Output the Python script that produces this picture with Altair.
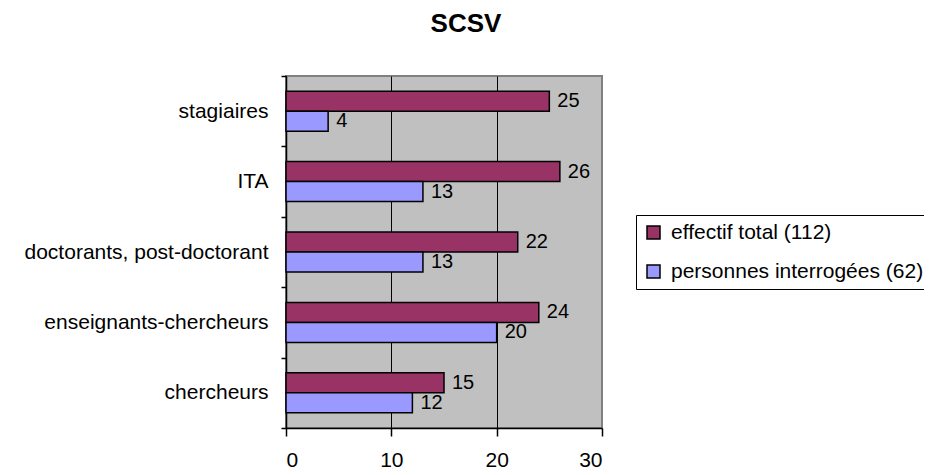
import altair as alt
import pandas as pd

categories = ["stagiaires", "ITA", "doctorants, post-doctorant", "enseignants-chercheurs", "chercheurs"]
series = ["effectif total (112)", "personnes interrogées (62)"]
effectif_total = [25, 26, 22, 24, 15]
personnes_interrogees = [4, 13, 13, 20, 12]
x_ticks = [0, 10, 20, 30]
colors = ["#993366", "#9999FF"]

rows = []
for c, a, b in zip(categories, effectif_total, personnes_interrogees):
    rows.append({"cat": c, "serie": series[0], "val": a})
    rows.append({"cat": c, "serie": series[1], "val": b})
df = pd.DataFrame(rows)

FONT = "Liberation Sans"

y_enc = alt.Y("cat:N", sort=categories, title=None,
              scale=alt.Scale(paddingInner=0, paddingOuter=0),
              axis=alt.Axis(tickBand="extent", labelFontSize=21, labelFont=FONT,
                            labelColor="black", domainColor="black", tickColor="black",
                            tickSize=5, labelPadding=13, labelLimit=400, grid=False,
                            domainWidth=1.5, tickWidth=1.5))
yoff = alt.YOffset("serie:N", sort=series,
                   scale=alt.Scale(paddingInner=0, paddingOuter=0.76))
x_enc = alt.X("val:Q", title=None,
              scale=alt.Scale(domain=[0, 30], nice=False),
              axis=alt.Axis(values=x_ticks, labelFontSize=21, labelFont=FONT,
                            labelColor="black", domainColor="black", tickColor="black",
                            tickSize=8, labelPadding=13, grid=True,
                            gridColor=alt.condition("datum.value == 30", alt.value("#808080"), alt.value("black")),
                            gridWidth=1, domainWidth=1.5, tickWidth=1.5))

bars = alt.Chart(df).mark_bar(stroke="black", strokeWidth=1.5).encode(
    y=y_enc, yOffset=yoff, x=x_enc,
    color=alt.Color("serie:N", sort=series,
                    scale=alt.Scale(domain=series, range=colors),
                    legend=alt.Legend(title=None, orient="none", legendX=350, legendY=139,
                                      strokeColor="black", fillColor="white", padding=7,
                                      symbolType="square", symbolSize=169,
                                      symbolStrokeColor="black", symbolStrokeWidth=1.5,
                                      labelFontSize=21, labelFont=FONT, labelColor="black",
                                      labelOffset=7, rowPadding=17, labelLimit=400)),
)

labels = alt.Chart(df).mark_text(align="left", baseline="middle", dx=8,
                                 fontSize=20, font=FONT, color="black").encode(
    y=alt.Y("cat:N", sort=categories), yOffset=alt.YOffset("serie:N", sort=series),
    x=alt.X("val:Q"), text=alt.Text("val:Q"),
)

chart = alt.layer(bars, labels).properties(
    width=316, height=352,
    autosize=alt.AutoSizeParams(type="none"),
    padding={"left": 278, "top": 68, "right": 322, "bottom": 44},
    title=alt.TitleParams("SCSV", fontSize=26, fontWeight="bold", font=FONT, color="black",
                          anchor="middle", frame="group", dx=22, offset=28),
).configure_view(fill="#C0C0C0", stroke="#808080", strokeWidth=2)

chart.save("out.html", embed_options={"renderer": "svg", "actions": False})
